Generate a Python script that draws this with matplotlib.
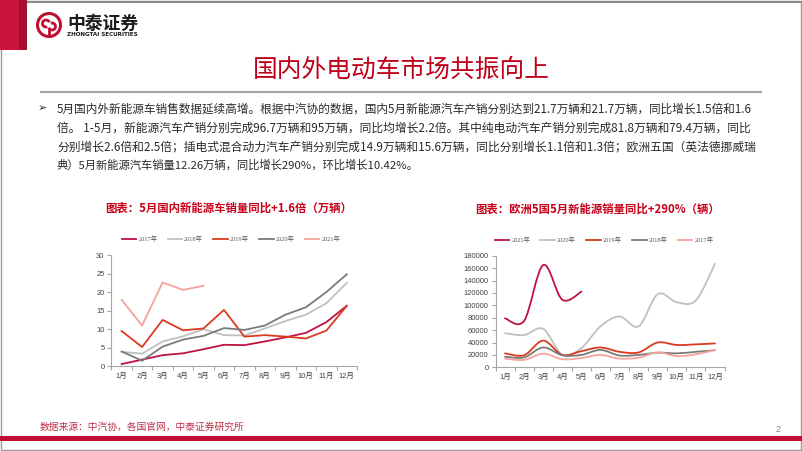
import numpy as np
import matplotlib
matplotlib.use('Agg')
import matplotlib.pyplot as plt
from matplotlib.patches import Rectangle, Circle, Arc, PathPatch
from matplotlib.path import Path
from matplotlib.lines import Line2D

plt.rcParams['font.family'] = ['Noto Sans CJK SC', 'DejaVu Sans']

# ---------------- data ----------------
months = ['1月', '2月', '3月', '4月', '5月', '6月', '7月', '8月', '9月', '10月', '11月', '12月']

# Left chart: China NEV sales (万辆)
cn_2017 = [0.6, 1.8, 3.0, 3.5, 4.6, 5.8, 5.7, 6.7, 7.8, 9.0, 11.9, 16.3]
cn_2018 = [3.9, 3.4, 6.7, 8.1, 10.0, 8.4, 8.3, 10.2, 12.2, 13.9, 17.0, 22.5]
cn_2019 = [9.5, 5.2, 12.5, 9.7, 10.2, 15.2, 8.0, 8.4, 8.0, 7.5, 9.6, 16.3]
cn_2020 = [4.0, 1.5, 5.3, 7.2, 8.2, 10.3, 9.8, 11.0, 13.9, 15.9, 20.0, 24.8]
cn_2021 = [17.9, 11.0, 22.6, 20.6, 21.7]
cn_labels = ['2017年', '2018年', '2019年', '2020年', '2021年']
cn_yticks = [0, 5, 10, 15, 20, 25, 30]

# Right chart: Europe 5 countries NEV sales (辆)
eu_2021 = [79000, 75000, 165000, 109000, 122000]
eu_2020 = [55000, 52000, 62000, 20000, 31000, 66000, 82000, 66000, 118000, 105000, 108000, 167000]
eu_2019 = [22500, 19500, 43000, 20000, 26000, 32000, 25000, 24000, 40000, 36000, 37000, 38500]
eu_2018 = [17000, 16000, 32000, 19500, 20000, 28000, 19000, 20000, 23500, 22500, 25000, 27500]
eu_2017 = [14000, 12000, 22000, 13000, 15000, 20000, 14000, 15500, 24000, 18000, 21000, 28000]
eu_labels = ['2021年', '2020年', '2019年', '2018年', '2017年']
eu_yticks = [0, 20000, 40000, 60000, 80000, 100000, 120000, 140000, 160000, 180000]

title = '国内外电动车市场共振向上'
para = [
    '5月国内外新能源车销售数据延续高增。根据中汽协的数据，国内5月新能源汽车产销分别达到21.7万辆和21.7万辆，同比增长1.5倍和1.6',
    '倍。 1-5月，新能源汽车产销分别完成96.7万辆和95万辆，同比均增长2.2倍。其中纯电动汽车产销分别完成81.8万辆和79.4万辆，同比',
    '分别增长2.6倍和2.5倍；插电式混合动力汽车产销分别完成14.9万辆和15.6万辆，同比分别增长1.1倍和1.3倍；欧洲五国（英法德挪威瑞',
    '典）5月新能源汽车销量12.26万辆，同比增长290%，环比增长10.42%。',
]
left_title = '图表：5月国内新能源车销量同比+1.6倍（万辆）'
right_title = '图表：欧洲5国5月新能源销量同比+290%（辆）'
source = '数据来源：中汽协，各国官网，中泰证券研究所'

# ---------------- styles ----------------
C_CRIMSON = '#BE1240'
C_LGRAY = '#C0C0C0'
C_RED = '#DA3A1F'
C_DGRAY = '#7A7A7A'
C_SALMON = '#F4A49C'
BRAND = '#C00F33'

W, H = 802, 451
fig = plt.figure(figsize=(W / 100, H / 100), dpi=100)
fig.patch.set_facecolor('white')
renderer = fig.canvas.get_renderer()


def fx(x):
    return x / W


def fy(y):
    return 1 - y / H


def hline(x0, x1, y, color, lw):
    fig.add_artist(Line2D([fx(x0), fx(x1)], [fy(y), fy(y)], transform=fig.transFigure,
                          color=color, lw=lw, solid_capstyle='butt'))


def fit_text(x0, x1, y, s, size, **kw):
    t = fig.text(fx(x0), fy(y), s, fontsize=size, va='center', ha='left', **kw)
    w = t.get_window_extent(renderer).width
    t.set_fontsize(size * (x1 - x0) / w)
    return t


# frame
fig.add_artist(Rectangle((fx(0.5), fy(449.5)), fx(800.5), (449 / H), transform=fig.transFigure,
                         fill=False, edgecolor='#9A9A9A', lw=1.0))
# header red bar
fig.add_artist(Rectangle((0, fy(50)), fx(19), 50 / H, transform=fig.transFigure,
                         facecolor='#C8143E', edgecolor='none'))
fig.add_artist(Rectangle((fx(19), fy(50)), fx(8), 50 / H, transform=fig.transFigure,
                         facecolor='#A50E30', edgecolor='none'))
hline(27, 802, 1.5, '#8C8C8C', 1.5)

# logo
ax_logo = fig.add_axes([fx(34), fy(40), fx(30), 30 / H])
ax_logo.set_xlim(-15, 15)
ax_logo.set_ylim(-15, 15)
ax_logo.set_aspect('equal')
ax_logo.axis('off')
ax_logo.add_patch(Circle((0, 0), 11.5, fill=False, edgecolor=BRAND, lw=2.2))
ax_logo.add_patch(Arc((-3, 1.5), 7, 7, theta1=20, theta2=290, edgecolor=BRAND, lw=2.0))
ax_logo.add_patch(Arc((3, -1.5), 7, 7, theta1=200, theta2=110, edgecolor=BRAND, lw=2.0))
ax_logo.plot([0, 0], [-11, -4], color=BRAND, lw=2.0)
fit_text(67, 138, 24, '中泰证券', 13, color='#1A1A1A', fontweight='bold')
fit_text(67, 138, 34.5, 'ZHONGTAI SECURITIES', 4, color='#1A1A1A', fontweight='bold',
         family=['DejaVu Sans'])

# title
fit_text(253, 550, 70, title, 17, color='#C00018')
hline(40, 762, 92, '#A6A6A6', 1.6)

# paragraph
fig.text(fx(38), fy(108), '➢', fontsize=8, va='center', ha='left', color='#262626',
         family=['DejaVu Sans'])
line_y = [109, 128, 146.5, 165]
line_x1 = [753, 753, 755, 420]
for s, y, x1 in zip(para, line_y, line_x1):
    fit_text(57, x1, y, s, 9, color='#2A2A2A')

# chart titles
fit_text(105, 352, 208, left_title, 8.5, color='#C8001A', fontweight='bold')
fit_text(475, 718, 209, right_title, 8.5, color='#C8001A', fontweight='bold')

# source + bottom bar
fit_text(40, 247, 427, source, 6, color='#C0304A', style='italic')
fig.add_artist(Rectangle((0, fy(441)), 1, 5 / H, transform=fig.transFigure,
                         facecolor=BRAND, edgecolor='none'))
fig.text(fx(778), fy(429), '2', fontsize=6.5, color='#7F7F7F', va='center', ha='center',
         family=['Liberation Sans'])

TICKFONT = ['Liberation Sans', 'Noto Sans CJK SC']
LEGFONT = ['Liberation Serif', 'Noto Sans CJK SC']


def style_axes(ax, ymax, yticks):
    ax.set_xlim(-0.5, 11.5)
    ax.set_ylim(0, ymax)
    ax.set_yticks(yticks)
    ax.set_xticks(range(12))
    ax.set_xticklabels(months)
    ax.set_xticks(np.arange(-0.5, 12, 1), minor=True)
    for sp in ['top', 'right']:
        ax.spines[sp].set_visible(False)
    for sp in ['left', 'bottom']:
        ax.spines[sp].set_color('#A6A6A6')
        ax.spines[sp].set_linewidth(0.8)
    ax.tick_params(axis='x', which='major', length=0, pad=4.5, labelsize=5.4, labelcolor='#404040')
    ax.tick_params(axis='x', which='minor', length=3, color='#A6A6A6', width=0.8)
    ax.tick_params(axis='y', length=3, color='#A6A6A6', width=0.8, pad=2, labelsize=5.4,
                   labelcolor='#404040')
    for lab in ax.get_xticklabels() + ax.get_yticklabels():
        lab.set_family(TICKFONT)
    ax.patch.set_alpha(0)


# ---------- left chart ----------
axL = fig.add_axes([fx(111.4), fy(366.3), (357 - 111.4) / W, (366.3 - 255) / H])
style_axes(axL, 30, cn_yticks)
cn_series = [cn_2017, cn_2018, cn_2019, cn_2020, cn_2021]
cn_colors = ['#BE1240', C_LGRAY, C_RED, C_DGRAY, C_SALMON]
handles = []
for vals, col, lab in zip(cn_series, cn_colors, cn_labels):
    h, = axL.plot(range(len(vals)), vals, color=col, lw=1.3, label=lab)
    handles.append(h)
legL = axL.legend(handles=handles, loc='center', bbox_to_anchor=(fx(231), fy(239)),
                  bbox_transform=fig.transFigure, ncol=5, frameon=False,
                  prop={'family': LEGFONT, 'size': 4.6}, handlelength=2.3,
                  handletextpad=0.3, columnspacing=1.6, labelcolor='#595959')


# ---------- right chart (smoothed lines) ----------
def smooth_path(xs, ys):
    pts = np.column_stack([xs, ys]).astype(float)
    n = len(pts)
    verts = [pts[0]]
    codes = [Path.MOVETO]
    for i in range(n - 1):
        p0 = pts[i - 1] if i > 0 else pts[i]
        p1 = pts[i]
        p2 = pts[i + 1]
        p3 = pts[i + 2] if i + 2 < n else pts[i + 1]
        c1 = p1 + (p2 - p0) / 6.0
        c2 = p2 - (p3 - p1) / 6.0
        verts += [c1, c2, p2]
        codes += [Path.CURVE4] * 3
    return Path(verts, codes)


axR = fig.add_axes([fx(495.5), fy(367.3), (724.5 - 495.5) / W, (367.3 - 255.7) / H])
style_axes(axR, 180000, eu_yticks)
eu_series = [eu_2021, eu_2020, eu_2019, eu_2018, eu_2017]
eu_colors = [C_CRIMSON, C_LGRAY, C_RED, C_DGRAY, C_SALMON]
handlesR = []
for vals, col, lab in zip(eu_series, eu_colors, eu_labels):
    p = smooth_path(np.arange(len(vals)), vals)
    axR.add_patch(PathPatch(p, fill=False, edgecolor=col, lw=1.3, capstyle='round',
                            joinstyle='round'))
    handlesR.append(Line2D([], [], color=col, lw=1.3, label=lab))
legR = axR.legend(handles=handlesR, loc='center', bbox_to_anchor=(fx(604), fy(240)),
                  bbox_transform=fig.transFigure, ncol=5, frameon=False,
                  prop={'family': LEGFONT, 'size': 4.6}, handlelength=2.3,
                  handletextpad=0.3, columnspacing=1.6, labelcolor='#595959')

fig.savefig('out.png', dpi=100)
